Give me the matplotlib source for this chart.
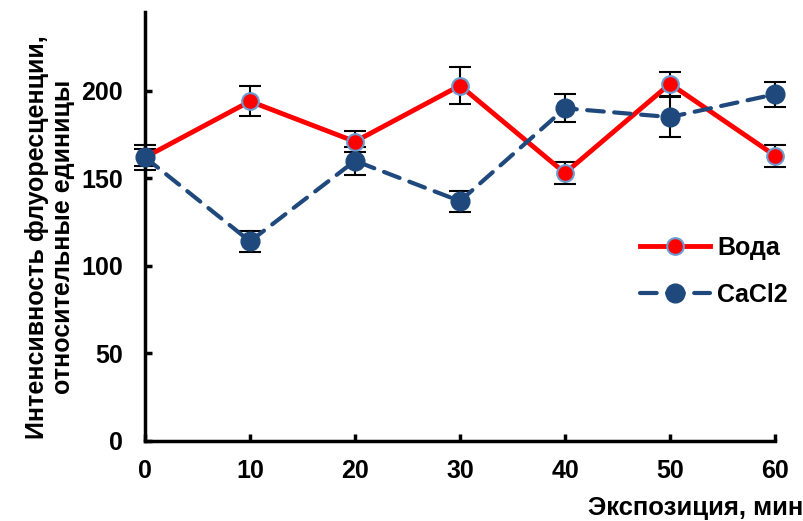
import matplotlib
matplotlib.use("Agg")
import matplotlib.pyplot as plt
import numpy as np

plt.rcParams['font.family'] = ['Liberation Sans', 'DejaVu Sans']
plt.rcParams['font.weight'] = 'bold'

# Data
minutes = [0, 10, 20, 30, 40, 50, 60]
water = [162, 194, 171, 203, 153, 204, 163]
water_err = [7, 8.5, 6, 10.5, 6.5, 7, 6.3]
cacl2 = [162, 114, 160, 137, 190, 185, 198]
cacl2_err = [5, 6, 8, 6, 8, 11.5, 7]

fig = plt.figure(figsize=(8.04, 5.21), dpi=100)
ax = fig.add_axes([145 / 804, 1 - 441 / 521, 630 / 804, 429 / 521])

# error bars under the markers
ax.errorbar(minutes, water, yerr=water_err, fmt='none', ecolor='black',
            elinewidth=1.5, capsize=8, capthick=1.5, zorder=2, clip_on=False)
ax.errorbar(minutes, cacl2, yerr=cacl2_err, fmt='none', ecolor='black',
            elinewidth=1.5, capsize=8, capthick=1.5, zorder=2, clip_on=False)

ax.plot(minutes, water, color='#ff0000', linewidth=3.5, marker='o', markersize=12,
        markerfacecolor='#ff0000', markeredgecolor='#6a9bd1', markeredgewidth=1.5,
        label='Вода', zorder=3, clip_on=False)
ax.plot(minutes, cacl2, color='#1f497d', linewidth=3, linestyle=(0, (4, 2.5)),
        dash_capstyle='round', marker='o', markersize=13.5,
        markerfacecolor='#1f497d', markeredgecolor='#1f497d',
        label='CaCl2', zorder=4, clip_on=False)

ax.set_xlim(0, 60)
ax.set_ylim(0, 245)
ax.set_xticks(minutes)
ax.set_yticks([0, 50, 100, 150, 200])

for s in ['top', 'right']:
    ax.spines[s].set_visible(False)
for s in ['left', 'bottom']:
    ax.spines[s].set_linewidth(2.5)
    ax.spines[s].set_zorder(1)

ax.tick_params(direction='in', length=5, width=2.5, labelsize=18)
ax.tick_params(axis='x', pad=13)
ax.tick_params(axis='y', pad=16)
for lab in ax.get_xticklabels() + ax.get_yticklabels():
    lab.set_fontweight('bold')

fig.text(50 / 804, 0.545, 'Интенсивность флуоресценции,\nотносительные единицы',
         rotation=90, ha='center', va='center', fontsize=18, fontweight='bold',
         linespacing=1.15)
fig.text(803 / 804, 1 - 508 / 521, 'Экспозиция, мин', ha='right', va='center',
         fontsize=18.5, fontweight='bold')

leg = ax.legend(loc='upper left', bbox_to_anchor=(495 / 630, (441 - 236) / 429),
                frameon=False, fontsize=18, handlelength=2.8, labelspacing=0.9,
                handletextpad=0.3, borderaxespad=0, borderpad=0)
for t in leg.get_texts():
    t.set_fontweight('bold')

fig.savefig('out.png', dpi=100)
